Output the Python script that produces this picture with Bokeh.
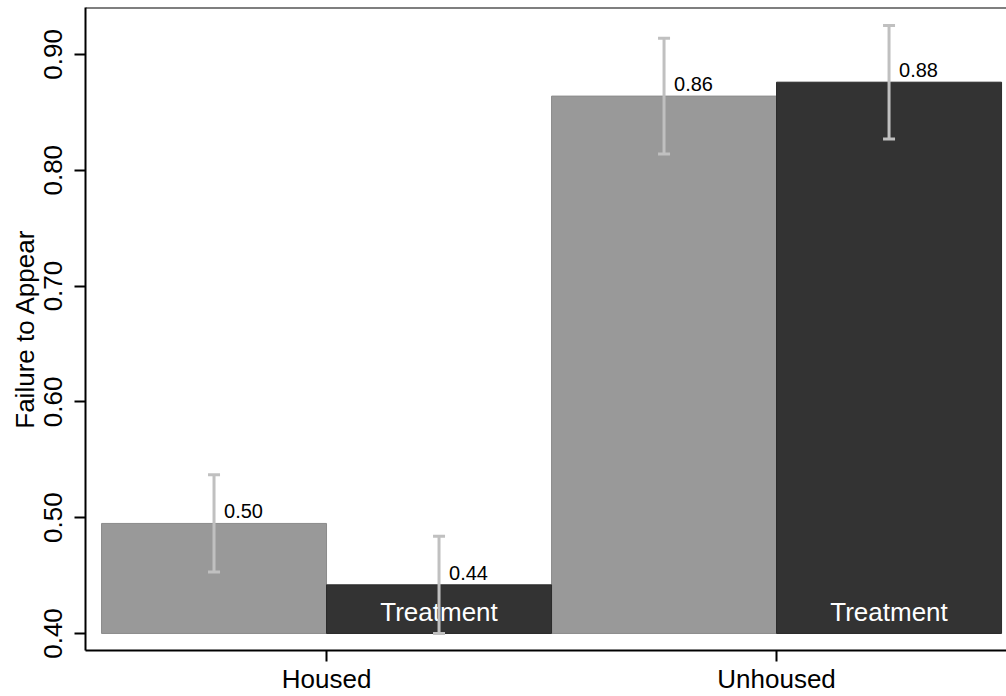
from bokeh.plotting import figure
from bokeh.models import (ColumnDataSource, Range1d, FixedTicker, Whisker, TeeHead,
                          Span, NumeralTickFormatter)
from bokeh.core.properties import value
from bokeh.embed import file_html
from bokeh.resources import INLINE

# ---- data ----
groups = ["Housed", "Unhoused"]
control_mean = [0.495, 0.864]
treatment_mean = [0.442, 0.876]
control_lower = [0.453, 0.814]
control_upper = [0.537, 0.914]
treatment_lower = [0.400, 0.827]
treatment_upper = [0.484, 0.925]
control_labels = ["0.50", "0.86"]
treatment_labels = ["0.44", "0.88"]
y_ticks = [0.40, 0.50, 0.60, 0.70, 0.80, 0.90]
base = 0.40

FONT = "Liberation Sans"
bar_w = 0.5
pos = [i + 1 for i in range(len(groups))]

ctrl = ColumnDataSource(dict(
    x=[p - bar_w / 2 for p in pos], top=control_mean, lower=control_lower,
    upper=control_upper, lab=control_labels))
trt = ColumnDataSource(dict(
    x=[p + bar_w / 2 for p in pos], top=treatment_mean, lower=treatment_lower,
    upper=treatment_upper, lab=treatment_labels,
    tname=["Treatment"] * len(groups), base=[base] * len(groups)))

y0, y1 = 0.3853, 0.9405
p = figure(width=1006, height=696, output_backend="svg", toolbar_location=None,
           x_range=Range1d(0.4644, 2.511), y_range=Range1d(y0, y1),
           min_border_left=85, min_border_right=0, min_border_top=7,
           min_border_bottom=45)
p.background_fill_color = "white"
p.border_fill_color = "white"
p.outline_line_color = None
p.grid.visible = False

p.vbar(x="x", bottom=base, top="top", width=bar_w, source=ctrl,
       fill_color="#999999", line_color="#8c8c8c", line_width=1)
p.vbar(x="x", bottom=base, top="top", width=bar_w, source=trt,
       fill_color="#333333", line_color="#2a2a2a", line_width=1)

for src in (ctrl, trt):
    p.text(x="x", y="top", text="lab", source=src, x_offset=10, y_offset=-12,
           text_baseline="alphabetic", text_align="left",
           text_font=value(FONT), text_font_size="20px", text_color="black")

p.text(x="x", y="base", text="tname", source=trt, y_offset=-21,
       text_align="center", text_baseline="alphabetic",
       text_font=value(FONT), text_font_size="26px", text_color="white")

for src in (ctrl, trt):
    w = Whisker(base="x", lower="lower", upper="upper", source=src,
                line_color="#c0c0c0", line_width=3, level="overlay",
                upper_head=TeeHead(size=12, line_color="#c0c0c0", line_width=3),
                lower_head=TeeHead(size=12, line_color="#c0c0c0", line_width=3))
    p.add_layout(w)

p.add_layout(Span(location=y1, dimension="width", line_color="black", line_width=2))

# axes
ya = p.yaxis[0]
ya.ticker = FixedTicker(ticks=y_ticks)
ya.formatter = NumeralTickFormatter(format="0.00")
ya.major_label_orientation = "vertical"
ya.axis_label = "Failure to Appear"
ya.axis_label_text_font = FONT
ya.axis_label_text_font_style = "normal"
ya.axis_label_text_font_size = "26px"
ya.axis_label_text_color = "black"
ya.axis_label_standoff = 2

xa = p.xaxis[0]
xa.ticker = FixedTicker(ticks=pos)
xa.major_label_overrides = {pos[i]: groups[i] for i in range(len(groups))}

for ax in (xa, ya):
    ax.axis_line_color = "black"
    ax.axis_line_width = 2
    ax.major_tick_line_color = "black"
    ax.major_tick_line_width = 2
    ax.major_tick_in = 0
    ax.major_tick_out = 11
    ax.minor_tick_line_color = None
    ax.major_label_text_font = FONT
    ax.major_label_text_font_size = "26px"
    ax.major_label_text_color = "black"
ya.major_label_standoff = 12
xa.major_label_standoff = 2

open("out.html", "w").write(file_html(p, INLINE))
